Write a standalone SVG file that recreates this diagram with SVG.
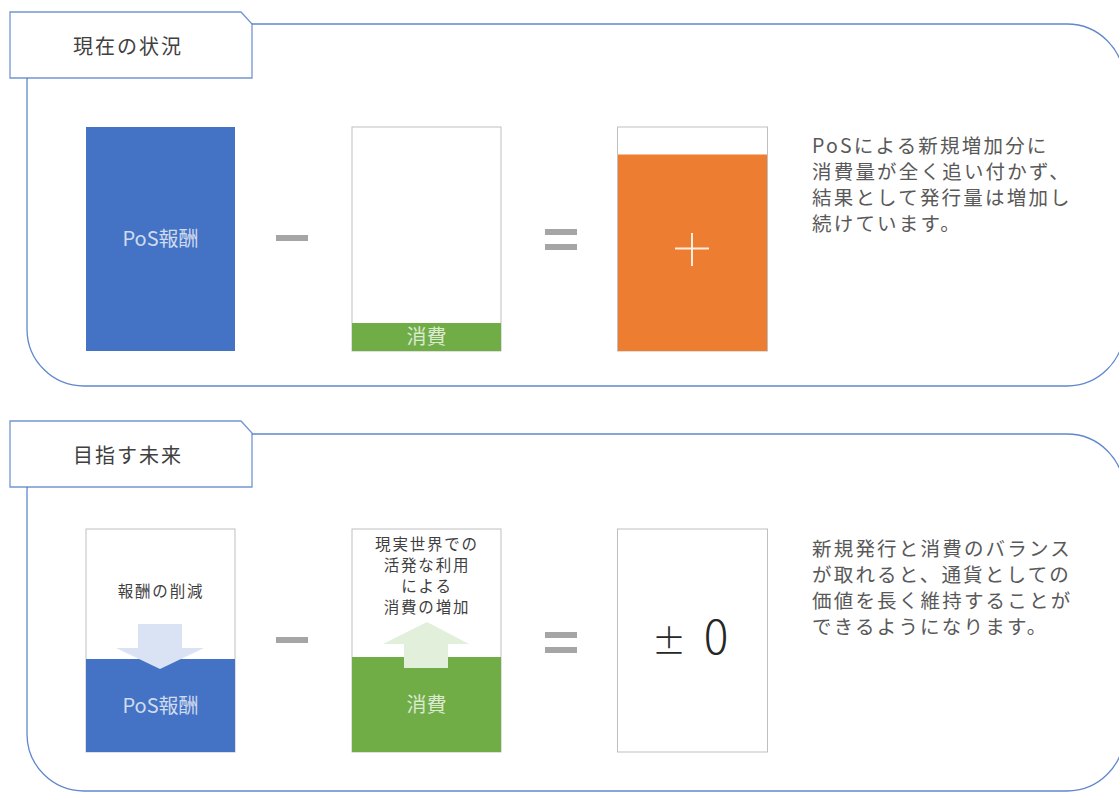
<svg xmlns="http://www.w3.org/2000/svg" width="1119" height="792" viewBox="0 0 1119 792">
<style>
text{font-family:"Noto Sans CJK JP","Noto Sans",sans-serif;}
.frame{fill:none;stroke:#4472C4;stroke-width:1.3;stroke-opacity:0.85}
.tab{fill:#fff;stroke:#4472C4;stroke-width:1.3;stroke-opacity:0.75}
.tabt{font-size:20px;fill:#404040;text-anchor:middle;letter-spacing:2px}
.box{fill:#fff;stroke:#BFBFBF;stroke-width:1}
.wt{fill:#fff;fill-opacity:0.75;text-anchor:middle;font-size:20px}
.op{fill:#A5A5A5}
.desc{font-size:19.5px;fill:#595959;letter-spacing:2.2px}
.small{font-size:15.5px;fill:#404040;text-anchor:middle;letter-spacing:1.8px}
</style>
<g id="section1">
<rect class="frame" x="27" y="24" width="1097" height="362" rx="57"/>
<polygon class="tab" points="10,12 241,12 252,24 252,78 10,78"/>
<text class="tabt" x="128" y="54">現在の状況</text>
</g>
<g id="section2">
<rect class="frame" x="27" y="434" width="1097" height="357" rx="57"/>
<polygon class="tab" points="10,421 241,421 252,433 252,487 10,487"/>
<text class="tabt" x="128" y="463">目指す未来</text>
</g>
<g id="pos1">
<rect x="86" y="127" width="149" height="224" fill="#4472C4"/>
<text class="wt" x="160.5" y="246">PoS報酬</text>
</g>
<g id="minus1"><rect class="op" x="276" y="235" width="32" height="6"/></g>
<g id="consume1">
<rect class="box" x="352" y="127" width="149" height="224"/>
<rect x="352" y="323" width="149" height="28" fill="#70AD47"/>
<text class="wt" x="426.5" y="344">消費</text>
</g>
<g id="equals1"><rect class="op" x="545" y="229" width="32" height="6"/><rect class="op" x="545" y="244" width="32" height="6"/></g>
<g id="result1">
<rect class="box" x="617.5" y="127" width="150" height="224"/>
<rect x="618" y="154.5" width="149" height="196.5" fill="#ED7D31"/>
<path d="M675 248.5H709M692 233V266" stroke="#fff" stroke-opacity="0.85" stroke-width="2"/>
</g>
<g id="desc1">
<text class="desc" x="812" y="153">PoSによる新規増加分に</text>
<text class="desc" x="812" y="179">消費量が全く追い付かず、</text>
<text class="desc" x="812" y="205">結果として発行量は増加し</text>
<text class="desc" x="812" y="231">続けています。</text>
</g>
<g id="pos2">
<rect class="box" x="86" y="529" width="149" height="223"/>
<rect x="86" y="659" width="149" height="93" fill="#4472C4"/>
<text class="small" x="161" y="597">報酬の削減</text>
<polygon points="138,624 182,624 182,648 204,648 160,669 116,648 138,648" fill="#DAE3F3"/>
<text class="wt" x="160.5" y="713">PoS報酬</text>
</g>
<g id="minus2"><rect class="op" x="276" y="637" width="32" height="6"/></g>
<g id="consume2">
<rect class="box" x="352" y="529" width="149" height="223"/>
<rect x="352" y="657" width="149" height="95" fill="#70AD47"/>
<text class="small" x="427" y="550">現実世界での</text>
<text class="small" x="427" y="571">活発な利用</text>
<text class="small" x="427" y="592">による</text>
<text class="small" x="427" y="613">消費の増加</text>
<polygon points="427,622 469,644 448,644 448,668 404,668 404,644 383,644" fill="#E2EFDA"/>
<text class="wt" x="426.5" y="712">消費</text>
</g>
<g id="equals2"><rect class="op" x="545" y="632" width="32" height="6"/><rect class="op" x="545" y="647" width="32" height="6"/></g>
<g id="result2">
<rect class="box" x="617.5" y="529" width="150" height="223"/>
<text y="654" fill="#262626" text-anchor="middle" style="font-family:'Noto Sans CJK JP',sans-serif;font-weight:300"><tspan x="669" font-size="34">±</tspan><tspan x="716" font-size="46">0</tspan></text>
</g>
<g id="desc2">
<text class="desc" x="812" y="556">新規発行と消費のバランス</text>
<text class="desc" x="812" y="582">が取れると、通貨としての</text>
<text class="desc" x="812" y="608">価値を長く維持することが</text>
<text class="desc" x="812" y="634">できるようになります。</text>
</g>
<g id="connectors"></g>
</svg>
